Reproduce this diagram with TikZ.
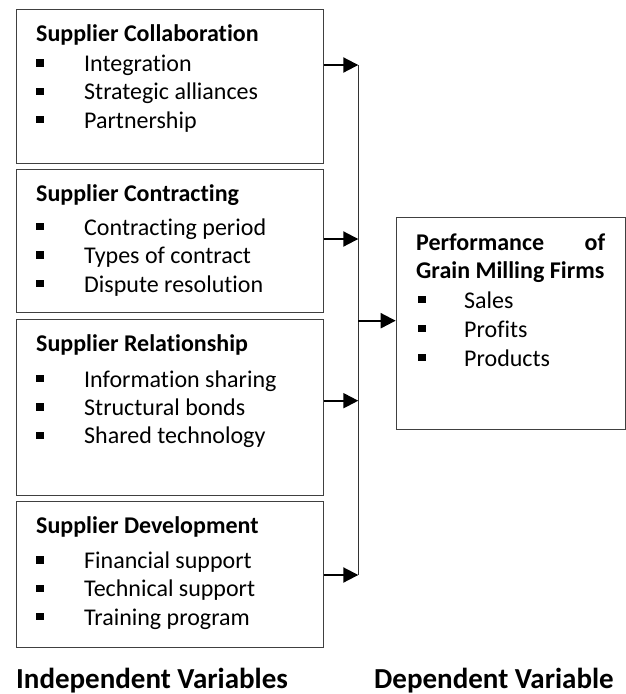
\documentclass[tikz,border=0pt]{standalone}
\usepackage{fontspec}
\setmainfont{Carlito}[Ligatures=NoCommon]
\usetikzlibrary{arrows.meta}

\tikzset{
	varbox/.style={draw=black!75, line width=1.1pt, rectangle, inner sep=0pt, anchor=north west},
	boxtitle/.style={anchor=base west, inner sep=0pt, font=\bfseries\fontsize{24}{28}\selectfont},
	boxitem/.style={anchor=base west, inner sep=0pt, font=\fontsize{24}{28}\selectfont},
	footlabel/.style={anchor=base west, inner sep=0pt, font=\bfseries\fontsize{29}{34}\selectfont},
	link/.style={line width=2pt, -{Triangle[length=15pt,width=15pt]}},
	bus/.style={draw=black!80, line width=1.2pt}
}
\newcommand\sqbullet[1]{\makebox[#1][l]{\rule[5pt]{7.3pt}{7.3pt}}}

\begin{document}
\begin{tikzpicture}[x=1pt, y=-1pt]
\useasboundingbox (0,0) rectangle (626,694);

% name, top, height, gap title->items, items
\newcommand\varbox[6]{
	\node[varbox, minimum width=306.7, minimum height=#3] (#1) at (16,#2) {};
	\node[boxtitle] (#1-t) at (36,{#2+32.8}) {#4};
	\foreach \txt [count=\i] in #6 {
		\node[boxitem] (#1-\i) at (36,{#2+32.8+#5+(\i-1)*28.4}) {\sqbullet{48pt}\txt};
	}
}

\varbox{collab}{8.7}{154}{Supplier Collaboration}{30}{{Integration, Strategic alliances, Partnership}};
\varbox{contract}{169}{142.7}{Supplier Contracting}{33.4}{{Contracting period, Types of contract, Dispute resolution}};
\varbox{relation}{318.7}{176.3}{Supplier Relationship}{35.6}{{Information sharing, Structural bonds, Shared technology}};
\varbox{develop}{500.7}{146}{Supplier Development}{35}{{Financial support, Technical support, Training program}};

% dependent side
\node[varbox, minimum width=228.8, minimum height=212.3] (perf) at (395.7,216.7) {};
\node[boxtitle, text width=189pt, align=justify] (perf-t) at (416,250) {Performance of\linebreak Grain Milling Firms};
\foreach \txt [count=\i] in {Sales, Profits, Products} {
	\node[boxitem] (perf-\i) at (418,{308+(\i-1)*29}) {\sqbullet{46pt}\txt};
}

% connectors
\coordinate (j1) at (358.3,65);
\coordinate (j2) at (358.3,239);
\coordinate (j3) at (358.3,400.7);
\coordinate (j4) at (358.3,575);
\coordinate (jm) at (358.3,320.7);

\draw[bus] (j1) -- (j4);
\draw[link] (collab.east |- j1) -- (j1);
\draw[link] (contract.east |- j2) -- (j2);
\draw[link] (relation.east |- j3) -- (j3);
\draw[link] (develop.east |- j4) -- (j4);
\draw[link] (jm) -- (perf.west |- jm);

\node[footlabel] (indep) at (16,688) {Independent Variables};
\node[footlabel] (dep) at (374,688) {Dependent Variable};

\end{tikzpicture}
\end{document}
